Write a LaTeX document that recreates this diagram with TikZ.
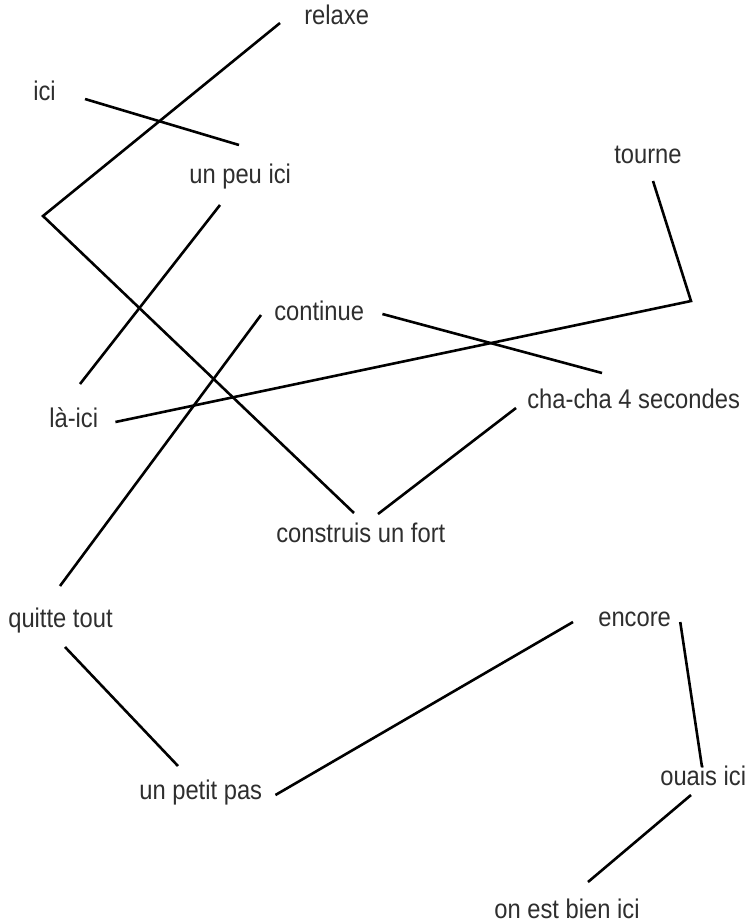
\documentclass[tikz,border=0pt]{standalone}
\usepackage{fontspec}
\setmainfont{Liberation Sans}[FakeStretch=0.88]
\usepackage{tikz}

\begin{document}
\begin{tikzpicture}[x=1pt,y=-1pt,line width=2.6pt,
  word/.style={anchor=base west,inner sep=0pt,text=black!82,font=\fontsize{27}{31}\selectfont},
  link/.style={draw=black,line join=miter}]
  \useasboundingbox (0,0) rectangle (753,924);

  \node[word] (Relaxe) at (303,24) {relaxe};
  \node[word] (Ici) at (32,100) {ici};
  \node[word] (PeuIci) at (188,183) {un peu ici};
  \node[word] (Tourne) at (613,163) {tourne};
  \node[word] (Continue) at (273,320) {continue};
  \node[word] (LaIci) at (48,427) {là-ici};
  \node[word] (ChaCha) at (526,408) {cha-cha 4 secondes};
  \node[word] (Fort) at (275,542) {construis un fort};
  \node[word] (Quitte) at (7,627) {quitte tout};
  \node[word] (PetitPas) at (138,799) {un petit pas};
  \node[word] (Encore) at (597,626) {encore};
  \node[word] (Ouais) at (659,785) {ouais ici};
  \node[word] (BienIci) at (493,918) {on est bien ici};

  \coordinate (Kink1) at (43,216);
  \coordinate (Kink2) at (691,301);

  \draw[link] ([shift={(-23,-1)}]Relaxe.base west) -- (Kink1) -- ([shift={(79,-29)}]Fort.base west);
  \draw[link] ([shift={(28,-1)}]Ici.base east) -- ([shift={(51,-38)}]PeuIci.base west);
  \draw[link] ([shift={(32,22)}]PeuIci.base west) -- ([shift={(32,-43)}]LaIci.base west);
  \draw[link] ([shift={(-12,-5)}]Continue.base west) -- ([shift={(53,-41)}]Quitte.base west);
  \draw[link] ([shift={(17,-6)}]Continue.base east) -- ([shift={(76,-35)}]ChaCha.base west);
  \draw[link] ([shift={(40,18)}]Tourne.base west) -- (Kink2) -- ([shift={(16,-5)}]LaIci.base east);
  \draw[link] ([shift={(-10,0)}]ChaCha.base west) -- ([shift={(103,-28)}]Fort.base west);
  \draw[link] ([shift={(58,20)}]Quitte.base west) -- ([shift={(40,-33)}]PetitPas.base west);
  \draw[link] ([shift={(12,-4)}]PetitPas.base east) -- ([shift={(-24,-4)}]Encore.base west);
  \draw[link] ([shift={(8,-4)}]Encore.base east) -- ([shift={(43,-18)}]Ouais.base west);
  \draw[link] ([shift={(32,10)}]Ouais.base west) -- ([shift={(95,-36)}]BienIci.base west);

\end{tikzpicture}
\end{document}
